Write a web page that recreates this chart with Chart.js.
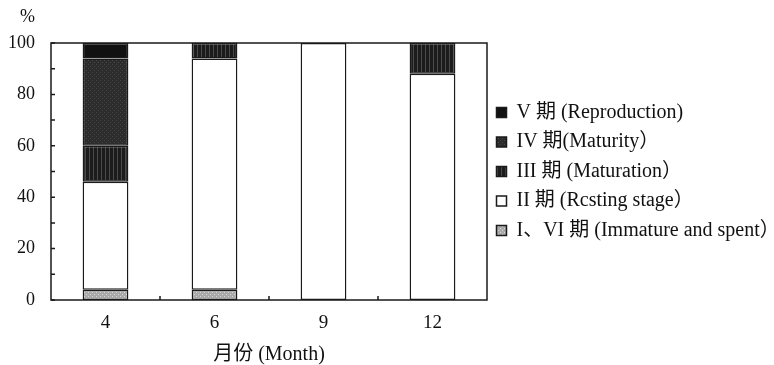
<!DOCTYPE html>
<html>
<head>
<meta charset="utf-8">
<script src="https://cdn.jsdelivr.net/npm/chart.js@4.4.1/dist/chart.umd.min.js"></script>
<style>
    html, body { margin: 0; padding: 0; background: #fff; }
    #wrap { width: 774px; height: 365px; }
</style>
</head>
<body>
<div id="wrap"><canvas id="stageChart"></canvas></div>
<script>
// data (percent of samples per stage, per month)
const months = ['4', '6', '9', '12'];
const stageNames = [
    'I、VI 期 (Immature and spent）',
    'II 期 (Rcsting stage）',
    'III 期 (Maturation）',
    'IV 期(Maturity）',
    'V 期 (Reproduction)'
];
const stageI = [4, 4, 0, 0];
const stageII = [42, 90, 100, 88];
const stageIII = [14, 6, 0, 12];
const stageIV = [34, 0, 0, 0];
const stageV = [6, 0, 0, 0];
const yTickValues = [0, 20, 40, 60, 80, 100];
const yTickMarks = [0, 10, 20, 30, 40, 50, 60, 70, 80, 90, 100];

const SERIF = '"Liberation Serif", "Times New Roman", "Noto Sans CJK SC", serif';
const LEGEND_W = 287;

// small fill textures, like the print
function makePattern(bg, fg, kind) {
    const c = document.createElement('canvas');
    c.width = 4; c.height = 4;
    const g = c.getContext('2d');
    g.fillStyle = bg;
    g.fillRect(0, 0, 4, 4);
    g.fillStyle = fg;
    if (kind === 'lines') {
        g.fillRect(1, 0, 1, 4);
    } else {
        g.fillRect(0, 0, 1, 1);
        g.fillRect(2, 2, 1, 1);
    }
    return g.createPattern(c, 'repeat');
}

const fillI = makePattern('#a9a9a9', '#d8d8d8', 'dots');
const fillIII = makePattern('#1c1c1c', '#4a4a4a', 'lines');
const fillIV = makePattern('#2c2c2c', '#474747', 'dots');

const framePlugin = {
    id: 'frame',
    afterDatasetsDraw(chart) {
        const { ctx, chartArea: a, scales: { x, y } } = chart;
        ctx.save();
        ctx.strokeStyle = '#1a1a1a';
        ctx.lineWidth = 1.5;
        ctx.strokeRect(a.left, a.top, a.right - a.left, a.bottom - a.top);
        ctx.beginPath();
        yTickMarks.forEach(v => {
            const py = y.getPixelForValue(v);
            ctx.moveTo(a.left, py);
            ctx.lineTo(a.left + 4, py);
        });
        for (let i = 1; i < months.length; i++) {
            const px = (x.getPixelForValue(i - 1) + x.getPixelForValue(i)) / 2;
            ctx.moveTo(px, a.bottom);
            ctx.lineTo(px, a.bottom - 4);
        }
        ctx.stroke();
        ctx.font = '18px ' + SERIF;
        ctx.fillStyle = '#111';
        ctx.textAlign = 'right';
        ctx.textBaseline = 'middle';
        ctx.fillText('%', y.right - 16, 17);
        ctx.restore();
    }
};

const legendFit = {
    id: 'legendFit',
    beforeInit(chart) {
        const fit = chart.legend.fit;
        chart.legend.fit = function () {
            fit.call(this);
            this.width = LEGEND_W;
        };
    }
};

const ds = (label, data, bg) => ({
    label: label,
    data: data,
    backgroundColor: bg,
    borderColor: '#1a1a1a',
    borderWidth: 1.5,
    borderSkipped: false,
    barPercentage: 0.42,
    categoryPercentage: 1
});

new Chart(document.getElementById('stageChart'), {
    type: 'bar',
    data: {
        labels: months,
        datasets: [
            ds(stageNames[0], stageI, fillI),
            ds(stageNames[1], stageII, '#ffffff'),
            ds(stageNames[2], stageIII, fillIII),
            ds(stageNames[3], stageIV, fillIV),
            ds(stageNames[4], stageV, '#111111')
        ]
    },
    options: {
        responsive: true,
        maintainAspectRatio: false,
        animation: false,
        layout: { padding: { top: 43, left: 8, right: 0, bottom: 2 } },
        plugins: {
            tooltip: { enabled: false },
            legend: {
                position: 'right',
                align: 'center',
                fullSize: false,
                reverse: true,
                labels: {
                    boxWidth: 10,
                    boxHeight: 10,
                    padding: 9.5,
                    color: '#111',
                    font: { family: SERIF, size: 20 }
                }
            }
        },
        scales: {
            x: {
                stacked: true,
                grid: { display: false, drawTicks: false },
                border: { display: false },
                afterFit(scale) { scale.height = 63; },
                ticks: { color: '#111', padding: 12, font: { family: SERIF, size: 19 } },
                title: {
                    display: true,
                    text: '月份 (Month)',
                    color: '#111',
                    padding: { top: 8, bottom: -4 },
                    font: { family: SERIF, size: 20 }
                }
            },
            y: {
                stacked: true,
                min: 0,
                max: 100,
                grid: { display: false, drawTicks: false },
                border: { display: false },
                afterFit(scale) { scale.width = 43; },
                afterBuildTicks(scale) {
                    scale.ticks = yTickValues.map(v => ({ value: v }));
                },
                ticks: { color: '#111', padding: 16, font: { family: SERIF, size: 18 } }
            }
        }
    },
    plugins: [legendFit, framePlugin]
});
</script>
</body>
</html>
